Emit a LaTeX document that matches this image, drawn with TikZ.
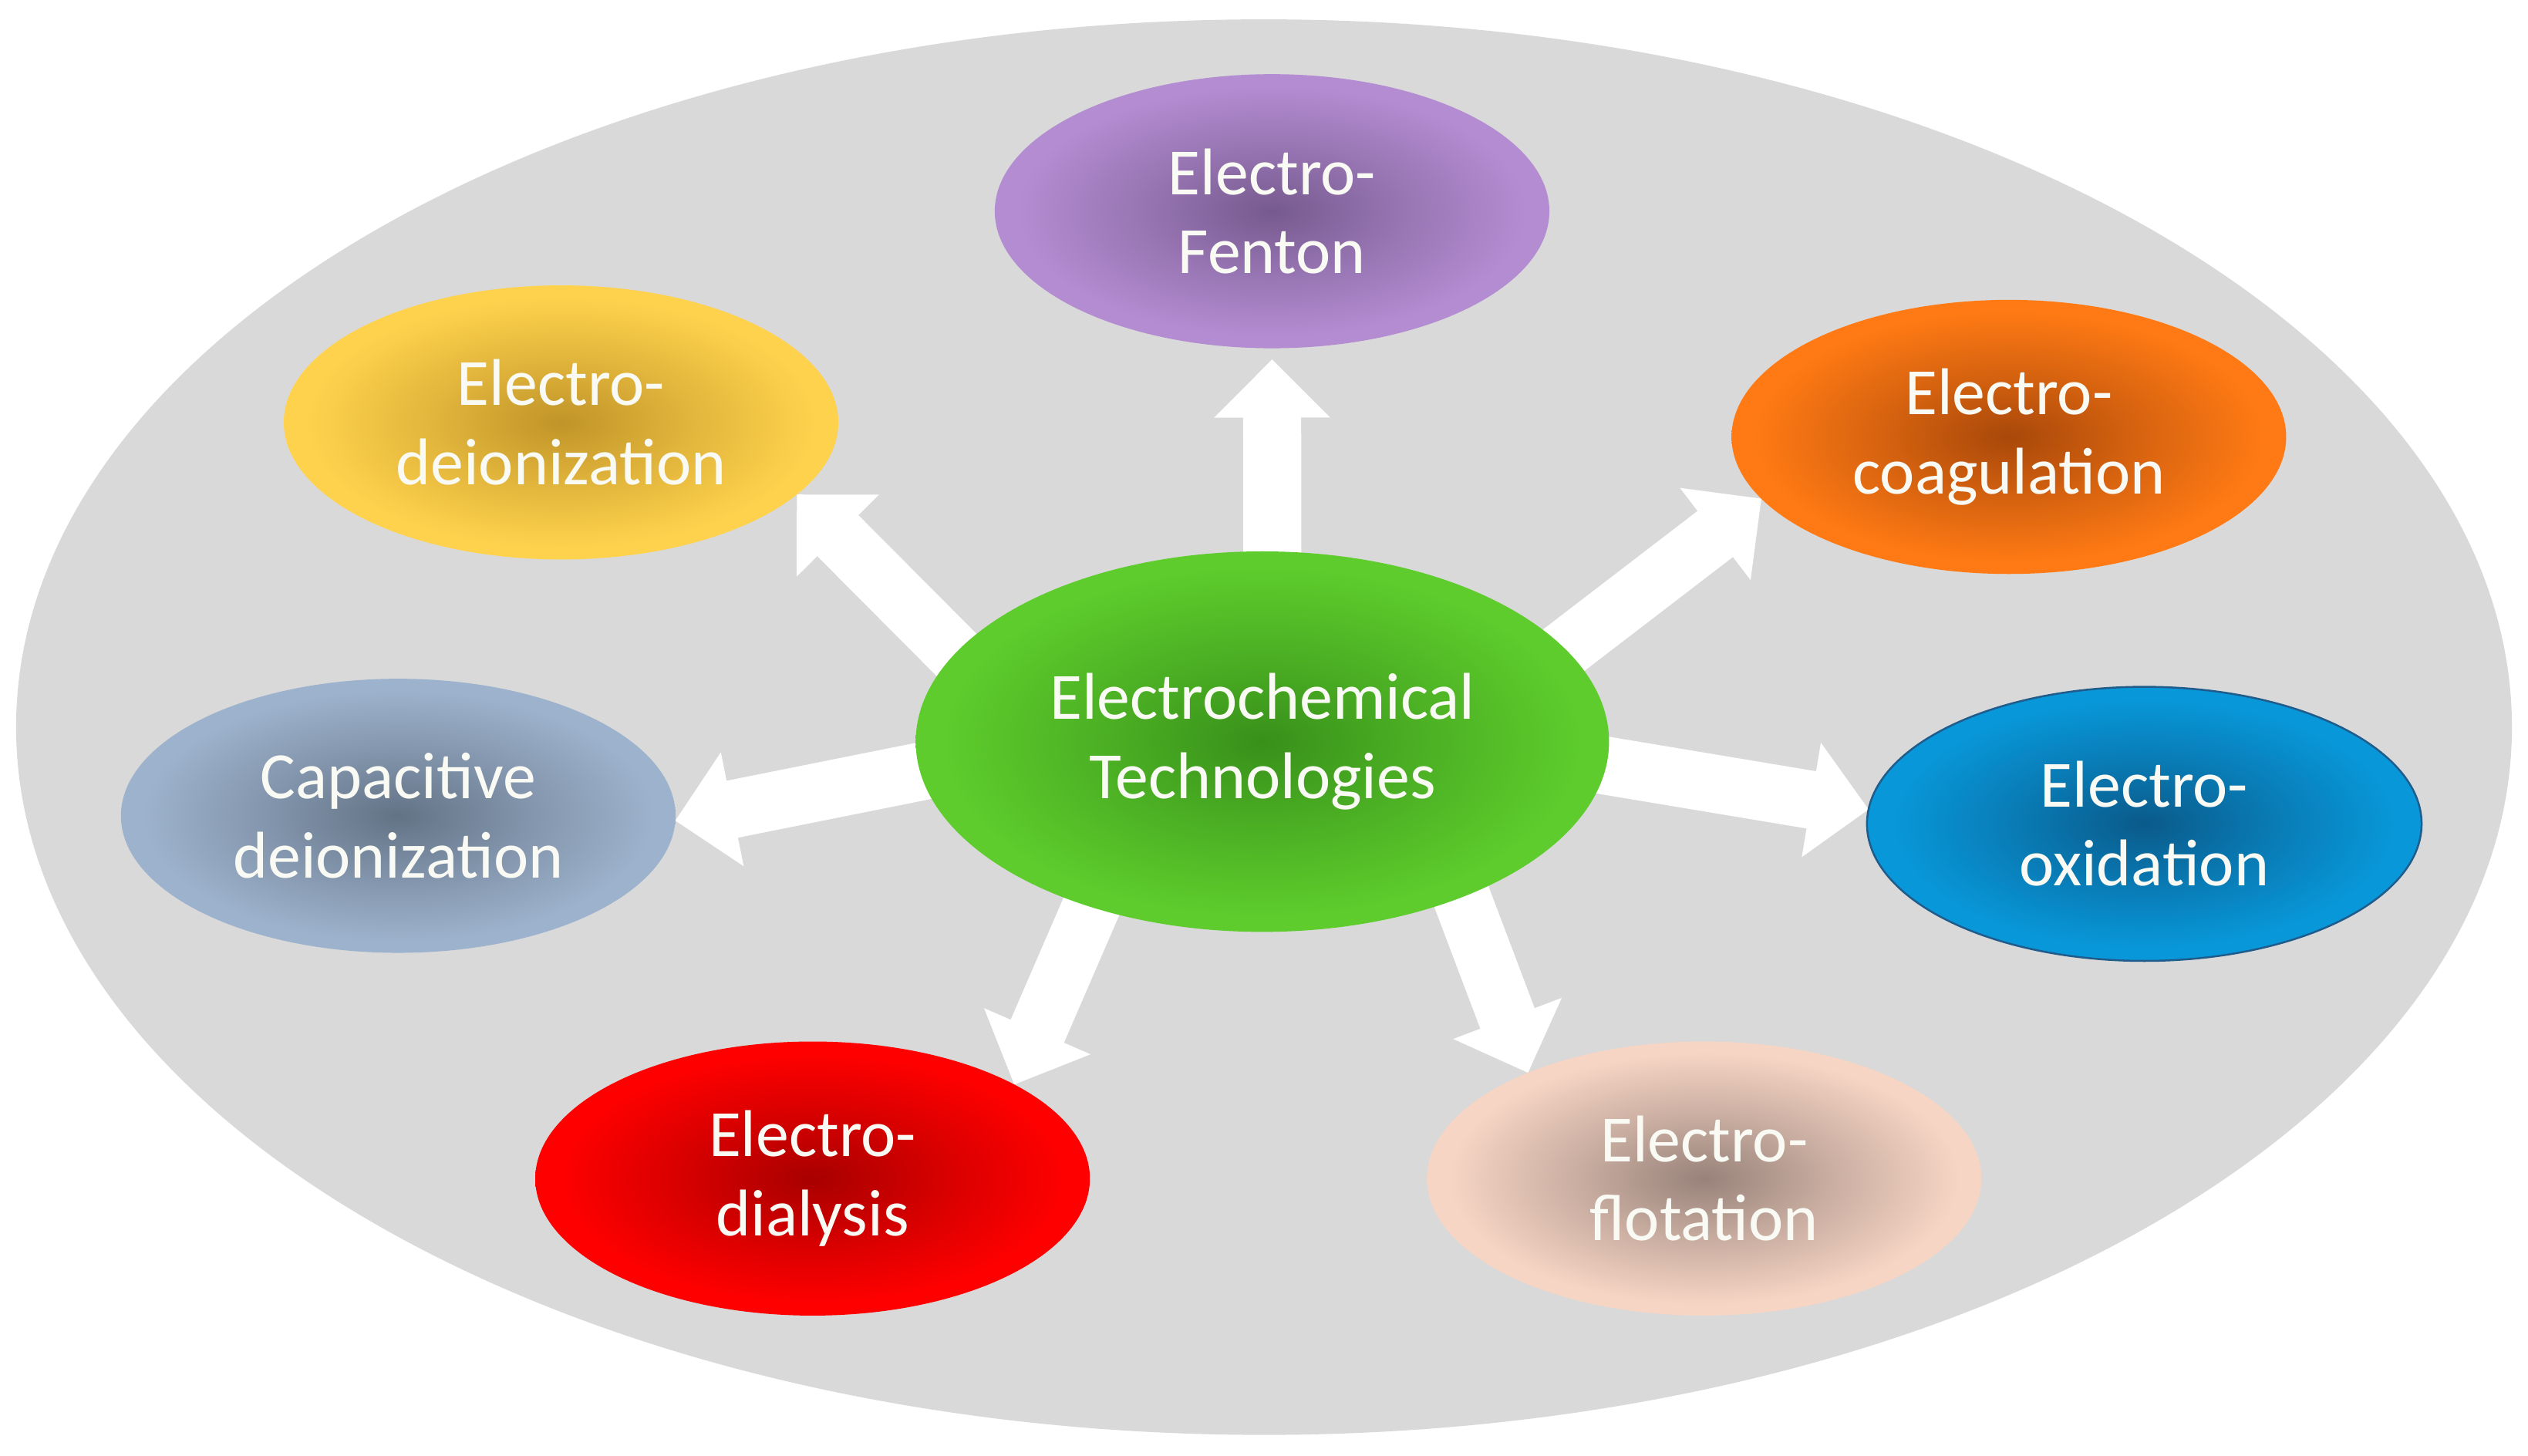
\documentclass[tikz,border=0pt]{standalone}
\usepackage{fontspec}
\setmainfont{Carlito}
\usetikzlibrary{calc,shapes.geometric}
\pgfdeclarelayer{bglayer}
\pgfdeclarelayer{arrowlayer}
\pgfsetlayers{bglayer,arrowlayer,main}
\definecolor{bggray}{HTML}{D9D9D9}
\definecolor{txt}{HTML}{FAFAF5}
\definecolor{fentonIn}{HTML}{765A8E}\definecolor{fentonOut}{HTML}{B48CD2}
\definecolor{deionIn}{HTML}{C09428}\definecolor{deionOut}{HTML}{FFD24D}
\definecolor{coagIn}{HTML}{A8480A}\definecolor{coagOut}{HTML}{FF7A14}
\definecolor{capIn}{HTML}{637386}\definecolor{capOut}{HTML}{9DB2CC}
\definecolor{oxIn}{HTML}{0A5A8A}\definecolor{oxOut}{HTML}{0898DA}
\definecolor{oxEdge}{HTML}{1F5C8C}
\definecolor{dialIn}{HTML}{A80000}\definecolor{dialOut}{HTML}{FF0000}
\definecolor{flotIn}{HTML}{98827A}\definecolor{flotOut}{HTML}{F6D5C4}
\definecolor{hubIn}{HTML}{38901A}\definecolor{hubOut}{HTML}{5DCC2C}
\colorlet{gin}{black}\colorlet{gout}{white}\colorlet{gmid}{gray}
\pgfdeclareradialshading[gin,gmid,gout]{glow}{\pgfpoint{0bp}{0bp}}{color(0bp)=(gin); color(12bp)=(gmid); color(23bp)=(gout); color(25bp)=(gout); color(50bp)=(gout)}
\tikzset{
  glowfill/.style 2 args={/utils/exec={\colorlet{gin}{#1}\colorlet{gout}{#2}\colorlet{gmid}{#1!45!#2}}, shading=glow},
  tech/.style={ellipse, minimum width=344pt, minimum height=170pt, inner sep=0pt, outer sep=0pt,
    align=center, text=txt, font=\fontsize{41}{49}\selectfont},
  hub/.style={tech, minimum width=430pt, minimum height=236pt},
  arrowfill/.style={fill=white},
}
\newcommand\blockarrow[2]{%
  \path (#1) coordinate (bt) (#2) coordinate (bh);
  \coordinate (bt0) at ($(bt)!-30pt!(bh)$);
  \coordinate (bn) at ($(bh)!36pt!(bt)$);
  \fill[arrowfill] ($(bt0)!18pt!90:(bh)$) -- ($(bn)!18pt!-90:(bt0)$) -- ($(bn)!36pt!-90:(bt0)$) -- (bh)
     -- ($(bn)!36pt!90:(bt0)$) -- ($(bn)!18pt!90:(bt0)$) -- ($(bt0)!18pt!-90:(bh)$) -- cycle;
}
\begin{document}
\begin{tikzpicture}[x=1pt,y=-1pt]
\useasboundingbox (0,0) rectangle (1568,903);
\begin{pgfonlayer}{bglayer}
  \fill[bggray] (784,451) ellipse [x radius=774, y radius=439];
\end{pgfonlayer}

\node[hub,  glowfill={hubIn}{hubOut}]     (hub)  at (783,460)  {Electrochemical\\Technologies};
\node[tech, glowfill={fentonIn}{fentonOut}] (fen)  at (789,131)  {Electro-\\Fenton};
\node[tech, glowfill={deionIn}{deionOut}]   (dei)  at (348,262)  {Electro-\\deionization};
\node[tech, glowfill={coagIn}{coagOut}]     (coa)  at (1246,271) {Electro-\\coagulation};
\node[tech, glowfill={capIn}{capOut}]       (cap)  at (247,506)  {Capacitive\\deionization};
\node[tech, glowfill={oxIn}{oxOut}, draw=oxEdge, line width=1.2pt] (oxi) at (1330,511) {Electro-\\oxidation};
\node[tech, glowfill={dialIn}{dialOut}]     (dia)  at (504,731)  {Electro-\\dialysis};
\node[tech, glowfill={flotIn}{flotOut}]     (flo)  at (1057,731) {Electro-\\flotation};

\begin{pgfonlayer}{arrowlayer}
  \blockarrow{hub.87}{$(fen.-90)+(0,7)$}
  \blockarrow{hub.164}{dei.-17.8}
  \blockarrow{hub.17.4}{coa.-166.8}
  \blockarrow{hub.-175.1}{cap.-1.2}
  \blockarrow{hub.-4.9}{oxi.177.6}
  \blockarrow{hub.-136.1}{dia.25.7}
  \blockarrow{hub.-38.3}{flo.149.7}
\end{pgfonlayer}
\end{tikzpicture}
\end{document}
